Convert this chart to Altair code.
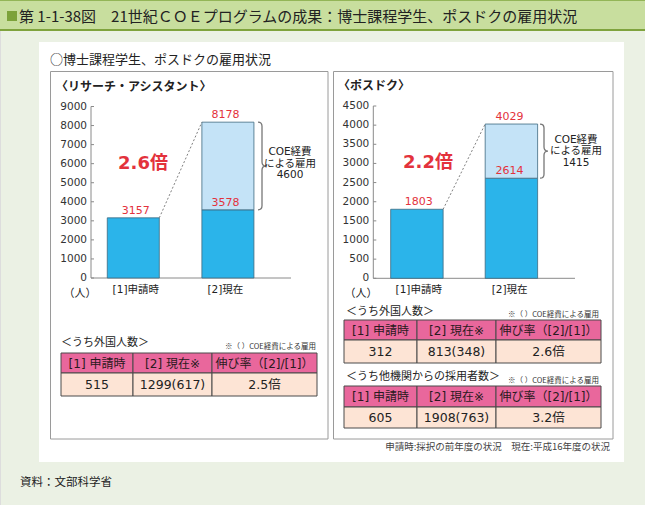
import altair as alt
import pandas as pd

# ---------------- data ----------------
categories = ["[1]申請時", "[2]現在"]
ra_base = [3157, 3578]          # リサーチ・アシスタント (base part)
ra_total = [3157, 8178]         # total incl. COE-funded
pd_base = [1803, 2614]          # ポスドク
pd_total = [1803, 4029]
ra_ticks = [0, 1000, 2000, 3000, 4000, 5000, 6000, 7000, 8000, 9000]
pd_ticks = [0, 500, 1000, 1500, 2000, 2500, 3000, 3500, 4000, 4500]
ra_ratio = "2.6倍"
pd_ratio = "2.2倍"
coe_label = ["COE経費", "による雇用"]
table_head = ["[1] 申請時", "[2] 現在※", "伸び率（[2]/[1]）"]
ra_foreign = ["515", "1299(617)", "2.5倍"]
pd_foreign = ["312", "813(348)", "2.6倍"]
pd_other = ["605", "1908(763)", "3.2倍"]

# ---------------- style ----------------
JP = "Noto Sans CJK JP"
NUM = "DejaVu Sans, Noto Sans CJK JP"
RED = "#E3323C"
BLUE = "#2BB4EA"
LIGHT = "#C4E3F7"
PINK = "#E9679C"
PEACH = "#FDE4D5"
ONE = pd.DataFrame({"d": [0]})

layers = []


def box(x, x2, y, y2, fill=None, stroke=None, sw=1.0):
    kw = {}
    if fill is None:
        kw["fillOpacity"] = 0
        kw["fill"] = "#ffffff"
    else:
        kw["fill"] = fill
    if stroke is not None:
        kw["stroke"] = stroke
        kw["strokeWidth"] = sw
    return alt.Chart(ONE).mark_rect(**kw).encode(
        x=alt.value(x), x2=alt.value(x2), y=alt.value(y), y2=alt.value(y2))


def txt(s, x, y, size=11, color="#222222", font=JP, weight="normal",
        align="left", baseline="middle", **kw):
    return alt.Chart(ONE).mark_text(
        text=s, font=font, fontSize=size, color=color, fontWeight=weight,
        align=align, baseline=baseline, **kw).encode(x=alt.value(x), y=alt.value(y))


def brace_path(hw, c):
    return (f"M {-hw} -1 Q 0 -1 0 {-1 + c} L 0 {-c} Q 0 0 {hw} 0 "
            f"Q 0 0 0 {c} L 0 {1 - c} Q 0 1 {-hw} 1")


def panel(base, total, ticks, ymax, yr, xr, pin, pout, axis_x, base_end,
          ratio, ratio_xy, brace_x, coe_xy):
    ys = alt.Scale(domain=[0, ymax], range=yr, nice=False, zero=False)
    xs = alt.Scale(domain=categories, range=xr, paddingInner=pin, paddingOuter=pout)
    out = []
    Y = lambda f: alt.Y(f, scale=ys, axis=None)
    X = lambda f: alt.X(f, scale=xs, axis=None)

    # axis line + baseline
    ax = pd.DataFrame({"lo": [0], "hi": [ymax]})
    out.append(alt.Chart(ax).mark_rule(color="#8a8a8a", strokeWidth=1).encode(
        x=alt.value(axis_x), y=Y("lo:Q"), y2="hi"))
    out.append(alt.Chart(ax).mark_rule(color="#8a8a8a", strokeWidth=1).encode(
        x=alt.value(axis_x), x2=alt.value(base_end), y=Y("lo:Q")))
    tk = pd.DataFrame({"t": ticks, "lab": [str(t) for t in ticks]})
    out.append(alt.Chart(tk).mark_rule(color="#8a8a8a", strokeWidth=1).encode(
        x=alt.value(axis_x), x2=alt.value(axis_x + 3), y=Y("t:Q")))
    out.append(alt.Chart(tk).mark_text(align="right", baseline="middle", font=NUM,
                                       fontSize=10.5, color="#333333").encode(
        x=alt.value(axis_x - 4), y=Y("t:Q"), text="lab:N"))

    # bars
    b1 = pd.DataFrame({"cat": categories, "lo": [0, 0], "hi": base})
    out.append(alt.Chart(b1).mark_bar(fill=BLUE, stroke="#3d6a80", strokeWidth=0.8).encode(
        x=X("cat:N"), y=Y("lo:Q"), y2="hi"))
    b2 = pd.DataFrame({"cat": [categories[1]], "lo": [base[1]], "hi": [total[1]]})
    out.append(alt.Chart(b2).mark_bar(fill=LIGHT, stroke="#3d6a80", strokeWidth=0.8).encode(
        x=X("cat:N"), y=Y("lo:Q"), y2="hi"))

    # connector dotted line
    cn = pd.DataFrame({"c0": [categories[0]], "c1": [categories[1]],
                       "v0": [total[0]], "v1": [total[1]]})
    out.append(alt.Chart(cn).mark_rule(color="#808080", strokeWidth=1, strokeDash=[2, 2]).encode(
        x=alt.X("c0:N", scale=xs, axis=None, bandPosition=1),
        x2=alt.X2("c1", bandPosition=0),
        y=Y("v0:Q"), y2="v1"))

    # value labels
    vl = pd.DataFrame({"cat": [categories[0], categories[1], categories[1]],
                       "v": [total[0], total[1], base[1]],
                       "lab": [str(total[0]), str(total[1]), str(base[1])]})
    out.append(alt.Chart(vl).mark_text(baseline="bottom", dy=-2, font=NUM, fontSize=11,
                                       color=RED).encode(
        x=X("cat:N"), y=Y("v:Q"), text="lab:N"))

    # category labels
    cl = pd.DataFrame({"cat": categories})
    out.append(alt.Chart(cl).mark_text(baseline="middle", font=NUM, fontSize=10.5,
                                       color="#222222").encode(
        x=X("cat:N"), y=alt.value(290), text="cat:N"))

    # brace
    coe = total[1] - base[1]
    h_px = coe / ymax * (yr[0] - yr[1])
    half = h_px / 2
    hw = 4.0 / half
    c = 4.0 / half
    br = pd.DataFrame({"mid": [(base[1] + total[1]) / 2]})
    out.append(alt.Chart(br).mark_point(shape=brace_path(hw, c), filled=False, opacity=1,
                                        stroke="#777777", strokeWidth=1.3,
                                        size=h_px ** 2).encode(
        x=alt.value(brace_x), y=Y("mid:Q")))

    # COE text
    out.append(txt(coe_label + [str(coe)], coe_xy[0], coe_xy[1], size=10.5, font=NUM,
                   align="center", baseline="top", lineHeight=11.5, color="#222222"))
    # ratio
    out.append(txt(ratio, ratio_xy[0], ratio_xy[1], size=18, font=NUM, weight="bold",
                   color=RED, align="center"))
    return out


def table(xe, ye, values):
    out = []
    for i in range(3):
        out.append(box(xe[i], xe[i + 1], ye[0], ye[1], fill=PINK, stroke="#4a4a4a"))
        out.append(box(xe[i], xe[i + 1], ye[1], ye[2], fill=PEACH, stroke="#4a4a4a"))
        cx = (xe[i] + xe[i + 1]) / 2
        out.append(txt(table_head[i], cx, (ye[0] + ye[1]) / 2 + 0.5, size=12, font=NUM,
                       align="center", color="#2a1a20"))
        out.append(txt(values[i], cx, (ye[1] + ye[2]) / 2 + 0.5, size=12.5, font=NUM,
                       align="center", color="#222222"))
    return out


# ---------------- frame ----------------
layers.append(box(0, 645, 0, 30, fill="#C8DE9E"))
layers.append(box(0, 645, 0, 1, fill="#93B557"))
layers.append(box(0, 645, 29, 31, fill="#7FA33D"))
layers.append(box(7, 17, 11, 21, fill="#7CA23A"))
layers.append(txt("第 1-1-38図　21世紀ＣＯＥプログラムの成果：博士課程学生、ポスドクの雇用状況",
                  19, 16.5, size=15, color="#222222"))
layers.append(box(39, 624, 42, 462, fill="#FFFFFF"))
layers.append(txt("○博士課程学生、ポスドクの雇用状況", 50, 60, size=13, color="#222222"))
layers.append(box(50.5, 328, 71.5, 439, stroke="#9a9a9a"))
layers.append(box(333.5, 613, 71.5, 439, stroke="#9a9a9a"))
layers.append(txt("〈リサーチ・アシスタント〉", 56, 87, size=12, weight="bold", color="#222222"))
layers.append(txt("〈ポスドク〉", 338, 86, size=12, weight="bold", color="#222222"))
layers.append(txt("（人）", 80, 294, size=11, align="center", color="#222222"))
layers.append(txt("（人）", 361, 294, size=11, align="center", color="#222222"))

# ---------------- charts ----------------
layers += panel(ra_base, ra_total, ra_ticks, 9000, [278, 106.5], [91, 270.2], 0.45, 0.172,
                91, 291, ra_ratio, (143, 164), 262, (290, 147))
layers += panel(pd_base, pd_total, pd_ticks, 4500, [278.3, 106], [373.3, 555], 0.445, 0.184,
                373.3, 575, pd_ratio, (428, 163), 544, (576, 134.5))

# ---------------- tables ----------------
layers.append(txt("＜うち外国人数＞", 61, 343, size=11, color="#222222"))
layers.append(txt("※（ ）COE経費による雇用", 316, 347, size=7.5, align="right", color="#333333"))
layers += table([61, 133, 212, 317], [353, 373, 396], ra_foreign)

layers.append(txt("＜うち外国人数＞", 346, 312, size=11, color="#222222"))
layers.append(txt("※（ ）COE経費による雇用", 599, 315, size=7.5, align="right", color="#333333"))
layers += table([344, 417, 496, 601], [320, 340, 363], pd_foreign)

layers.append(txt("＜うち他機関からの採用者数＞", 346, 377, size=11, color="#222222"))
layers.append(txt("※（ ）COE経費による雇用", 599, 381, size=7.5, align="right", color="#333333"))
layers += table([344, 417, 496, 601], [386, 407, 428], pd_other)

layers.append(txt("申請時:採択の前年度の状況　現在:平成16年度の状況", 610, 447, size=9.5,
                  align="right", color="#444444"))
layers.append(txt("資料：文部科学省", 20, 483, size=11.5, color="#222222"))

chart = alt.layer(*layers).resolve_scale(x="independent", y="independent").properties(
    width=645, height=505, padding=0,
    autosize=alt.AutoSizeParams(type="none"),
).configure_view(stroke=None).configure(background="#EBF1E4")

chart.save("out.html", embed_options={"renderer": "svg", "actions": False})
